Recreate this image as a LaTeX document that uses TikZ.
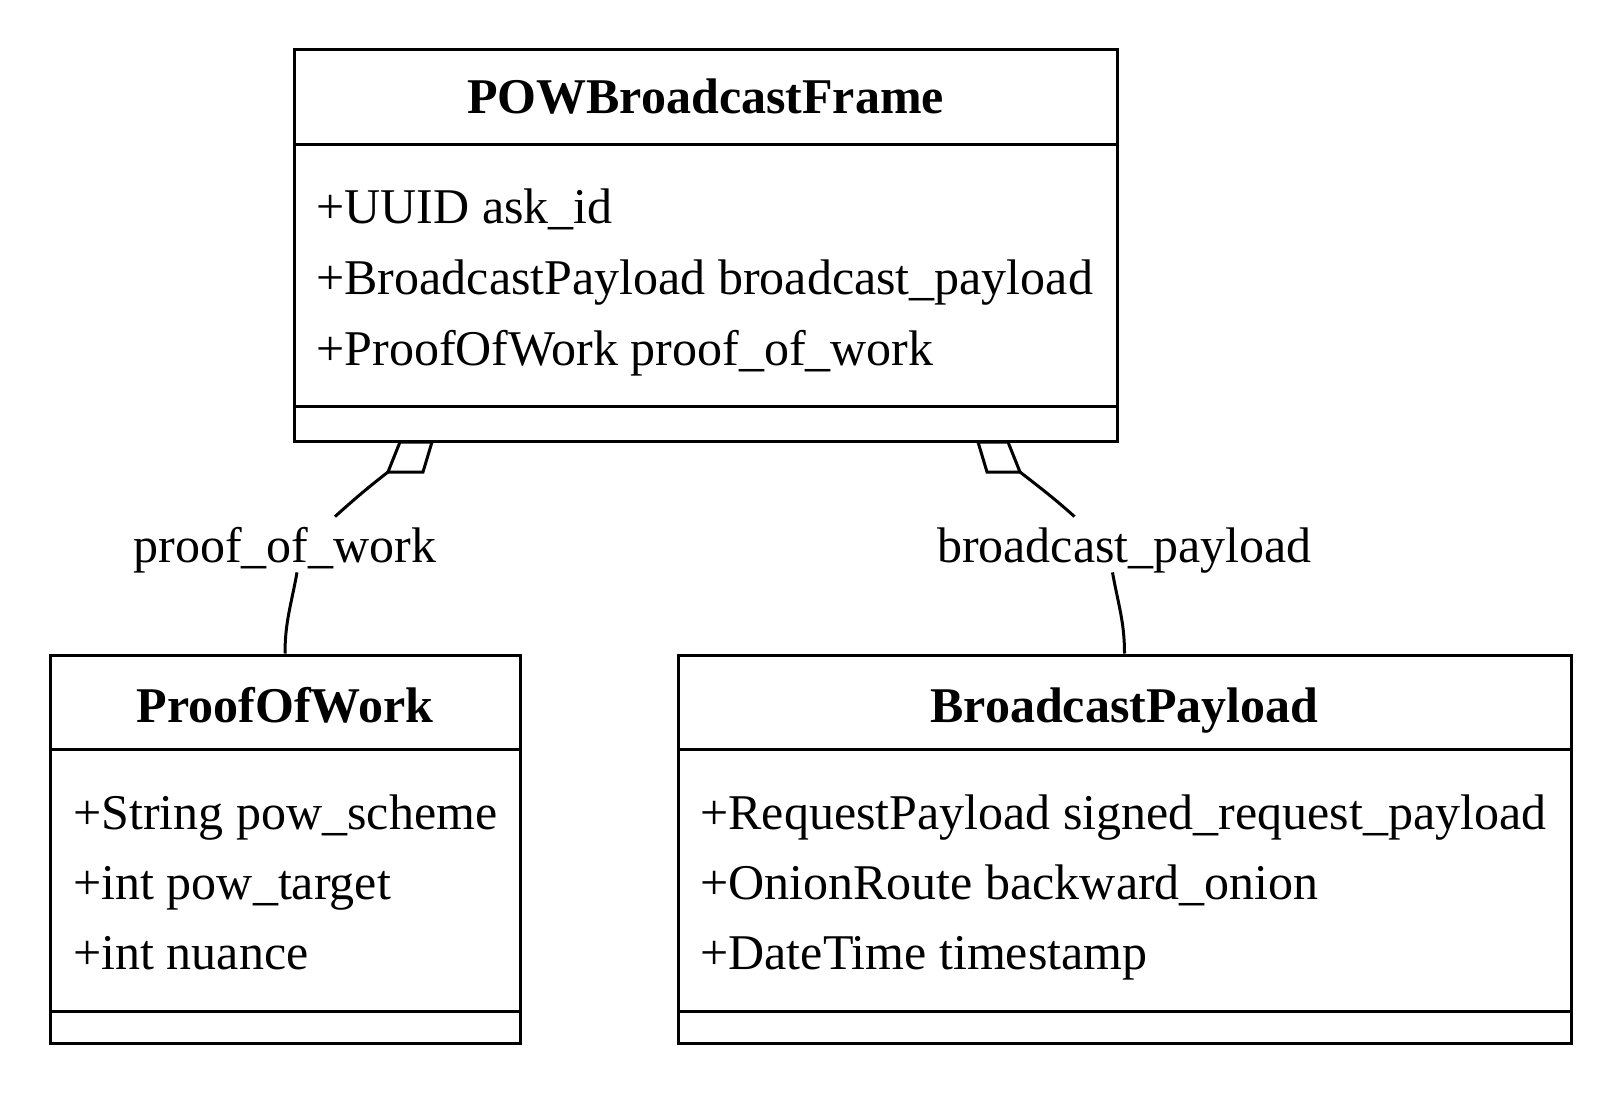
\documentclass[tikz,border=0pt]{standalone}
\usepackage{fontspec}
\setmainfont{Liberation Serif}
\tikzset{
  classbox/.style={draw, line width=1.5pt, inner sep=0pt},
  rule/.style={line width=1.5pt},
  classname/.style={anchor=base, inner sep=0pt, font=\fontsize{25}{30}\selectfont\bfseries},
  attr/.style={anchor=base west, inner sep=0pt, font=\fontsize{25}{30}\selectfont},
  rolelbl/.style={anchor=base, inner xsep=2pt, inner ysep=0pt, text height=22.5pt, text depth=5pt, font=\fontsize{25}{30}\selectfont},
  edge/.style={line width=1.5pt},
  agg/.style={line width=1.5pt, line join=miter, fill=white}
}
\begin{document}
\begin{tikzpicture}[x=0.5pt,y=0.5pt]
	\useasboundingbox (0,0) rectangle (1621,-1096);
	% class boxes
	\node[classbox, minimum width=411.5pt, minimum height=195.5pt] (frame) at (705.5,-245.5) {};
	\node[classbox, minimum width=235pt, minimum height=194pt] (pow) at (285,-849) {};
	\node[classbox, minimum width=446.5pt, minimum height=194pt] (payload) at (1124.5,-849) {};
	\draw[rule] (294,-145) -- (1117,-145);
	\draw[rule] (294,-406) -- (1117,-406);
	\draw[rule] (50,-749) -- (520,-749);
	\draw[rule] (50,-1011) -- (520,-1011);
	\draw[rule] (678,-749) -- (1571,-749);
	\draw[rule] (678,-1011) -- (1571,-1011);
	% names
	\node[classname] (frame-name) at (705.5,-114) {POWBroadcastFrame};
	\node[classname] (pow-name) at (285,-722) {ProofOfWork};
	\node[classname] (payload-name) at (1124.5,-722) {BroadcastPayload};
	% attributes
	\foreach \txt [count=\i from 0] in {+UUID ask\_id, +BroadcastPayload broadcast\_payload, +ProofOfWork proof\_of\_work}
		\node[attr] (frame-a\i) at (316,-224-70.5*\i) {\txt};
	\foreach \txt [count=\i from 0] in {+String pow\_scheme, +int pow\_target, +int nuance}
		\node[attr] (pow-a\i) at (73,-829-70*\i) {\txt};
	\foreach \txt [count=\i from 0] in {+RequestPayload signed\_request\_payload, +OnionRoute backward\_onion, +DateTime timestamp}
		\node[attr] (payload-a\i) at (700,-829-70*\i) {\txt};
	% aggregations
	\node[rolelbl] (lblpow) at (285,-562) {proof\_of\_work};
	\node[rolelbl] (lblpayload) at (1124.5,-562) {broadcast\_payload};
	\coordinate (powtip) at (388,-472);
	\coordinate (payloadtip) at (1020,-472);
	\draw[agg] (400,-442) -- (432,-442) -- (423,-472) -- (powtip) -- cycle;
	\draw[agg] (978,-442) -- (1008,-442) -- (payloadtip) -- (987,-472) -- cycle;
	\draw[edge] (powtip) to[out=218,in=42] ([xshift=25pt]lblpow.north);
	\draw[edge] ([xshift=6pt]lblpow.south) to[out=-100,in=90] (pow.north);
	\draw[edge] (payloadtip) to[out=-38,in=138] ([xshift=-25pt]lblpayload.north);
	\draw[edge] ([xshift=-6pt]lblpayload.south) to[out=-80,in=90] (payload.north);
\end{tikzpicture}
\end{document}
